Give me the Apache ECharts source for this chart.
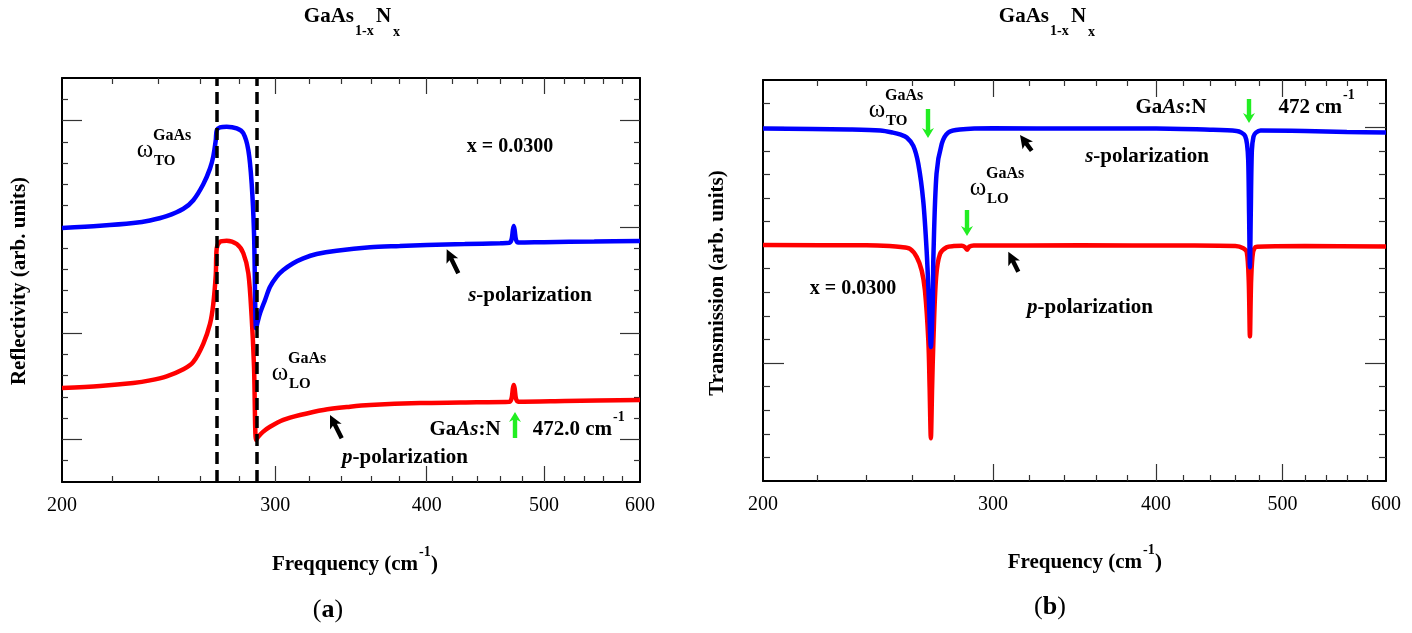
<!DOCTYPE html>
<html>
<head>
<meta charset="utf-8">
<script src="https://cdn.jsdelivr.net/npm/echarts@6/dist/echarts.min.js"></script>
<style>
  html, body { margin: 0; padding: 0; background: #fff; }
  #main { width: 1412px; height: 633px; }
</style>
</head>
<body>
<div id="main"></div>
<script>
// ---------- data ----------
var freqTicks = [200, 300, 400, 500, 600];
var freqMajor = [300, 400, 500];
var freqMinor = [220, 240, 260, 280, 320, 340, 360, 380, 420, 440, 460, 480, 520, 540, 560, 580];
var modeFreqs = [268.4, 289.6];          // GaAs TO / LO (dashed lines, panel a)

// (a) reflectivity, s-polarization (blue)
var reflFreqS = [200, 215, 229, 236.4, 244, 251.9, 256.7, 261.6, 265, 266.6, 267.9, 268.4, 270.1, 273.5, 278.8, 282.3, 285,
                 286.8, 288.1, 289.2, 289.9, 291.4, 294.2, 297, 300.8, 304.6, 310.4, 316.4, 324.5, 337.1, 359.2, 380, 400,
                 430, 460, 468, 470, 471.2, 472, 472.8, 474, 476, 500, 550, 600];
var reflS = [1.195, 1.205, 1.218, 1.23, 1.25, 1.285, 1.325, 1.4, 1.475, 1.53, 1.608, 1.655, 1.668, 1.671, 1.663, 1.64, 1.561,
             1.405, 1.17, 0.723, 0.746, 0.793, 0.856, 0.918, 0.966, 0.997, 1.029, 1.052, 1.072, 1.088, 1.104, 1.11, 1.115,
             1.119, 1.123, 1.125, 1.14, 1.185, 1.204, 1.185, 1.14, 1.126, 1.128, 1.131, 1.134];

// (a) reflectivity, p-polarization (red)
var reflFreqP = [200, 215, 229, 236.4, 244, 251.9, 256.7, 261.6, 265, 266.6, 267.9, 268.4, 270.1, 273.5, 278.8, 282.3, 285, 286.8,
                 288.1, 289.2, 290.4, 293.2, 297, 304.6, 314.4, 328.7, 345.8, 359.2, 395, 440, 468, 470, 471.2, 472, 472.8,
                 474, 476, 520, 600];
var reflP = [0.442, 0.452, 0.466, 0.478, 0.497, 0.53, 0.565, 0.65, 0.745, 0.835, 0.975, 1.1, 1.13, 1.135, 1.119, 1.076, 0.982, 0.777,
             0.542, 0.198, 0.213, 0.237, 0.26, 0.292, 0.315, 0.339, 0.354, 0.362, 0.371, 0.375, 0.377, 0.392, 0.44, 0.456, 0.44,
             0.392, 0.378, 0.381, 0.386];

// (b) transmission, s-polarization (blue)
var transFreqS = [200, 233, 246, 251.5, 255, 257.7, 260.7, 263, 265.3, 266.9, 268, 268.9, 269.8, 270.1, 271.6, 274.1, 277.3, 283,
                  300, 350, 400, 440, 461, 465, 468, 469.6, 470.6, 471.3, 472, 472.7, 473.6, 475, 477, 481, 520, 560, 600];
var transS = [1.494, 1.49, 1.486, 1.477, 1.468, 1.456, 1.421, 1.345, 1.188, 0.977, 0.76, 0.568, 0.76, 0.95, 1.303, 1.429, 1.477, 1.49,
              1.495, 1.494, 1.494, 1.489, 1.484, 1.477, 1.463, 1.428, 1.358, 1.133, 0.906, 1.133, 1.4, 1.46, 1.477, 1.486, 1.484, 1.48, 1.477];

// (b) transmission, p-polarization (red)
var transFreqP = [200, 240, 250, 255, 259.2, 262.3, 264.6, 266.1, 267.7, 268.3, 268.9, 269.5, 270.1, 271.4, 273.3, 276.5, 280, 284,
                  285.5, 286.6, 287.7, 290, 350, 420, 460, 466.5, 469.4, 471, 472, 473, 474.6, 477.5, 520, 600];
var transP = [1.0, 0.999, 0.996, 0.992, 0.984, 0.949, 0.892, 0.808, 0.596, 0.4, 0.181, 0.4, 0.596, 0.864, 0.963, 0.991, 0.996, 0.997,
              0.992, 0.98, 0.993, 0.998, 0.999, 0.998, 0.996, 0.987, 0.97, 0.85, 0.613, 0.85, 0.97, 0.993, 0.996, 0.994];

// y ticks (arbitrary units)
var reflYMax = 1.9, reflYMajor = [0.2, 0.7, 1.2, 1.7];
var reflYMinor = [0.1, 0.3, 0.4, 0.5, 0.6, 0.8, 0.9, 1.0, 1.1, 1.3, 1.4, 1.5, 1.6, 1.8];
var transYMax = 1.7, transYMajor = [0.5, 1.5];
var transYMinor = [0.1, 0.2, 0.3, 0.4, 0.6, 0.7, 0.8, 0.9, 1.0, 1.1, 1.2, 1.3, 1.4, 1.6];

// ---------- helpers ----------
var FONT = 'Liberation Serif';

function pairs(xs, ys) {
    return xs.map(function (x, i) { return [x, ys[i]]; });
}

function xAx(grid, pos, ticks, len, line, labels) {
    return {
        type: 'log', logBase: 10, gridIndex: grid, position: pos, min: 200, max: 600,
        axisLine: { show: line, onZero: false, lineStyle: { color: '#000', width: 2 } },
        axisTick: { show: true, inside: true, length: len, customValues: ticks, lineStyle: { color: '#333', width: 1.2 } },
        axisLabel: labels ? { show: true, customValues: freqTicks, margin: 14, fontFamily: FONT, fontSize: 20, color: '#000' }
                          : { show: false },
        splitLine: { show: false }
    };
}

function yAx(grid, pos, max, ticks, len, line) {
    return {
        type: 'value', gridIndex: grid, position: pos, min: 0, max: max,
        axisLine: { show: line, onZero: false, lineStyle: { color: '#000', width: 2 } },
        axisTick: { show: true, inside: true, length: len, customValues: ticks, lineStyle: { color: '#333', width: 1.2 } },
        axisLabel: { show: false },
        splitLine: { show: false }
    };
}

function txt(x, y, text, size, extra) {
    var st = { text: text, fontFamily: FONT, fontSize: size, fontWeight: 'bold', fill: '#000', align: 'center', verticalAlign: 'middle' };
    for (var k in extra) st[k] = extra[k];
    return { type: 'text', x: x, y: y, style: st };
}

function rich(size) {
    return {
        b: { fontFamily: FONT, fontSize: size, fontWeight: 'bold', fill: '#000' },
        i: { fontFamily: FONT, fontSize: size, fontWeight: 'bold', fontStyle: 'italic', fill: '#000' },
        n: { fontFamily: FONT, fontSize: size, fontWeight: 'normal', fill: '#000' }
    };
}

// arrow polygon from tip to tail (annotation only)
function arrow(tx, ty, ex, ey, color, h, w, s) {
    var dx = ex - tx, dy = ey - ty, L = Math.sqrt(dx * dx + dy * dy);
    var ux = dx / L, uy = dy / L, nx = -uy, ny = ux;
    var pts = [
        [tx, ty],
        [tx + ux * h + nx * w, ty + uy * h + ny * w],
        [tx + ux * (h - 2) + nx * s, ty + uy * (h - 2) + ny * s],
        [ex + nx * s, ey + ny * s],
        [ex - nx * s, ey - ny * s],
        [tx + ux * (h - 2) - nx * s, ty + uy * (h - 2) - ny * s],
        [tx + ux * h - nx * w, ty + uy * h - ny * w]
    ];
    return { type: 'polygon', shape: { points: pts }, style: { fill: color } };
}

function omega(x, y, sub) {
    return [
        txt(x, y, 'ω', 25, { fontWeight: 'normal' }),
        txt(x + 8, y - 14, 'GaAs', 16, { align: 'left' }),
        txt(x + 9, y + 11, sub, 15, { align: 'left' })
    ];
}

function title(dx) {
    return [
        txt(354 + dx, 17, 'GaAs', 21, { align: 'right' }),
        txt(355 + dx, 31, '1-x', 14, { align: 'left' }),
        txt(376 + dx, 17, 'N', 21, { align: 'left' }),
        txt(393 + dx, 32, 'x', 14, { align: 'left' })
    ];
}

var GREEN = '#22ee22';
var BLACK = '#000';

var graphics = [].concat(
    title(0), title(695),
    // panel (a)
    [
        { type: 'text', x: 20, y: 281, rotation: Math.PI / 2,
          style: { text: 'Reflectivity (arb. units)', fontFamily: FONT, fontSize: 21, fontWeight: 'bold', fill: '#000', align: 'center', verticalAlign: 'middle' } },
        txt(418, 565, 'Freqquency (cm', 21, { align: 'right' }),
        txt(419, 552, '-1', 14, { align: 'left' }),
        txt(431, 565, ')', 21, { align: 'left' }),
        txt(328, 610, '{n|(}{b|a}{n|)}', 26, { rich: rich(26) }),
        txt(510, 147, 'x = 0.0300', 20),
        txt(530, 296, '{i|s}{b|-polarization}', 21, { rich: rich(21) }),
        txt(405, 458, '{i|p}{b|-polarization}', 21, { rich: rich(21) }),
        txt(465, 430, '{b|Ga}{i|As}{b|:N}', 21, { rich: rich(21) }),
        txt(612, 430, '472.0 cm', 21, { align: 'right' }),
        txt(613, 417, '-1', 14, { align: 'left' }),
        arrow(446.7, 249.3, 458.3, 273.3, BLACK, 13, 6.5, 2.2),
        arrow(330, 415, 341.7, 438.3, BLACK, 13, 6.5, 2.2),
        arrow(515, 412, 515, 438, GREEN, 10, 6, 2.2)
    ],
    omega(145, 150, 'TO'),
    omega(280, 373, 'LO'),
    // panel (b)
    [
        { type: 'text', x: 718, y: 283, rotation: Math.PI / 2,
          style: { text: 'Transmission (arb. units)', fontFamily: FONT, fontSize: 21, fontWeight: 'bold', fill: '#000', align: 'center', verticalAlign: 'middle' } },
        txt(1142, 563, 'Frequency (cm', 21, { align: 'right' }),
        txt(1143, 550, '-1', 14, { align: 'left' }),
        txt(1155, 563, ')', 21, { align: 'left' }),
        txt(1050, 607, '{n|(}{b|b}{n|)}', 26, { rich: rich(26) }),
        txt(853, 289, 'x = 0.0300', 20),
        txt(1147, 157, '{i|s}{b|-polarization}', 21, { rich: rich(21) }),
        txt(1090, 308, '{i|p}{b|-polarization}', 21, { rich: rich(21) }),
        txt(1171, 108, '{b|Ga}{i|As}{b|:N}', 21, { rich: rich(21) }),
        txt(1342, 108, '472 cm', 21, { align: 'right' }),
        txt(1343, 95, '-1', 14, { align: 'left' }),
        arrow(1020, 135, 1031.7, 150.7, BLACK, 13, 6.5, 2.2),
        arrow(1008.3, 251.7, 1018.3, 271.7, BLACK, 13, 6.5, 2.2),
        arrow(928, 138, 928, 109, GREEN, 10, 6, 2.2),
        arrow(967, 236, 967, 210, GREEN, 10, 6, 2.2),
        arrow(1249, 123, 1249, 99, GREEN, 10, 6, 2.2)
    ],
    omega(877, 110, 'TO'),
    omega(978, 188, 'LO')
);

var myChart = echarts.init(document.getElementById('main'));

var option = {
    animation: false,
    backgroundColor: '#fff',
    grid: [
        { left: 62, top: 78, width: 578, height: 404 },
        { left: 763, top: 80, width: 623, height: 401 }
    ],
    xAxis: [
        xAx(0, 'bottom', freqMajor, 16, true, true),
        xAx(0, 'bottom', freqMinor, 6, false, false),
        xAx(0, 'top', freqMajor, 16, true, false),
        xAx(0, 'top', freqMinor, 6, false, false),
        xAx(1, 'bottom', freqMajor, 17, true, true),
        xAx(1, 'bottom', freqMinor, 6, false, false),
        xAx(1, 'top', freqMajor, 17, true, false),
        xAx(1, 'top', freqMinor, 6, false, false)
    ],
    yAxis: [
        yAx(0, 'left', reflYMax, reflYMajor, 20, true),
        yAx(0, 'left', reflYMax, reflYMinor, 6, false),
        yAx(0, 'right', reflYMax, reflYMajor, 20, true),
        yAx(0, 'right', reflYMax, reflYMinor, 6, false),
        yAx(1, 'left', transYMax, transYMajor, 21, true),
        yAx(1, 'left', transYMax, transYMinor, 7, false),
        yAx(1, 'right', transYMax, transYMajor, 21, true),
        yAx(1, 'right', transYMax, transYMinor, 7, false)
    ],
    graphic: { elements: graphics },
    series: [
        {
            name: 'p (a)', type: 'line', xAxisIndex: 0, yAxisIndex: 0,
            data: pairs(reflFreqP, reflP), showSymbol: false, smooth: 0.3,
            lineStyle: { color: '#ff0000', width: 4.5 }, itemStyle: { color: '#ff0000' }
        },
        {
            name: 's (a)', type: 'line', xAxisIndex: 0, yAxisIndex: 0,
            data: pairs(reflFreqS, reflS), showSymbol: false, smooth: 0.3,
            lineStyle: { color: '#0000ff', width: 4.5 }, itemStyle: { color: '#0000ff' },
            markLine: {
                silent: true, symbol: 'none', label: { show: false },
                lineStyle: { color: '#000', type: [12, 6], width: 3.5 },
                data: modeFreqs.map(function (f) { return { xAxis: f }; })
            }
        },
        {
            name: 'p (b)', type: 'line', xAxisIndex: 4, yAxisIndex: 4,
            data: pairs(transFreqP, transP), showSymbol: false, smooth: 0.3,
            lineStyle: { color: '#ff0000', width: 4.5 }, itemStyle: { color: '#ff0000' }
        },
        {
            name: 's (b)', type: 'line', xAxisIndex: 4, yAxisIndex: 4,
            data: pairs(transFreqS, transS), showSymbol: false, smooth: 0.3,
            lineStyle: { color: '#0000ff', width: 4.5 }, itemStyle: { color: '#0000ff' }
        }
    ]
};

myChart.setOption(option);
</script>
</body>
</html>
